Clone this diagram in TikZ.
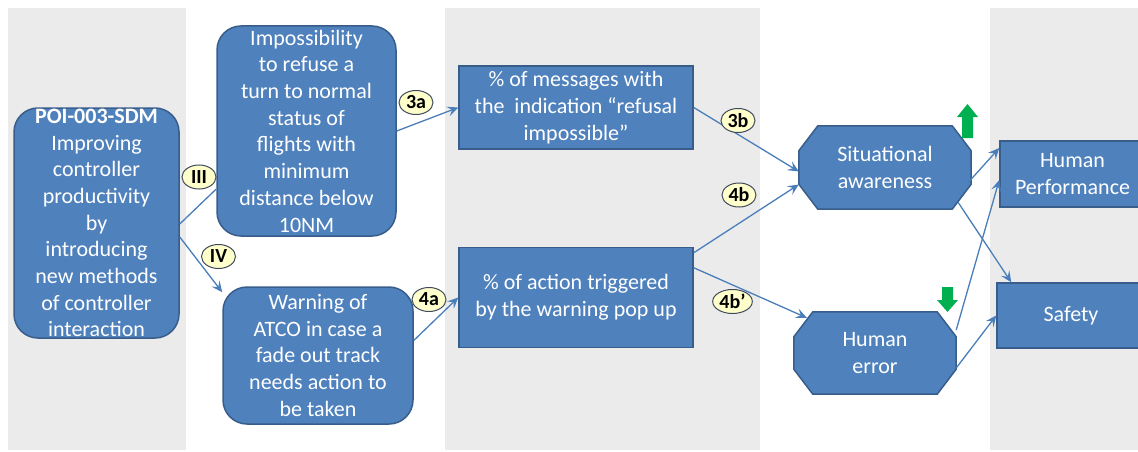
\documentclass[tikz,border=0pt]{standalone}
\usepackage{fontspec}
\setmainfont{Carlito}
\usetikzlibrary{arrows.meta, positioning, shapes.geometric}
\definecolor{boxblue}{HTML}{4F81BD}
\definecolor{boxline}{HTML}{385D8A}
\definecolor{linkblue}{HTML}{4A7EBB}
\definecolor{tagfill}{HTML}{FFFFCC}
\definecolor{tagline}{HTML}{3F4A5C}
\definecolor{panelgray}{HTML}{EBEBEB}
\definecolor{markgreen}{HTML}{00B050}
\pgfdeclarelayer{background}
\pgfsetlayers{background,main}
\tikzset{
  >={Stealth[length=11pt,width=10pt,inset=4.5pt]},
  box/.style={draw=boxline, fill=boxblue, line width=1.5pt, text=white,
    align=center, inner sep=0pt, font=\fontsize{22}{26.7}\selectfont},
  roundbox/.style={box, rounded corners=24pt},
  octtext/.style={text=white, align=center, inner sep=0pt,
    font=\fontsize{22}{26.7}\selectfont},
  tag/.style={ellipse, draw=tagline, fill=tagfill, line width=1pt,
    minimum width=34pt, minimum height=24pt, inner xsep=1pt, inner ysep=0pt,
    font=\bfseries\fontsize{20}{22}\selectfont},
  link/.style={->, draw=linkblue, line width=1.3pt}
}
\newcommand\OctOutline[3]{%
  \begin{pgfonlayer}{background}
    \draw[draw=boxline, fill=boxblue, line width=1.5pt]
      ([xshift=#2]#1.north west) -- ([xshift=-#2]#1.north east)
      -- ([yshift=-#3]#1.north east) -- ([yshift=#3]#1.south east)
      -- ([xshift=-#2]#1.south east) -- ([xshift=#2]#1.south west)
      -- ([yshift=#3]#1.south west) -- ([yshift=-#3]#1.north west) -- cycle;
  \end{pgfonlayer}}

\begin{document}
\begin{tikzpicture}[x=1pt,y=-1pt]
  \useasboundingbox (0,0) rectangle (1138,452);
  \begin{pgfonlayer}{background}
    \fill[panelgray] (8,8) rectangle (186,450);
    \fill[panelgray] (445,8) rectangle (760,450);
    \fill[panelgray] (990,8) rectangle (1138,450);
  \end{pgfonlayer}

  \node[roundbox, minimum width=165pt, minimum height=230pt] (poi) at (96.5,223)
    {\textbf{POI-003-SDM}\\Improving\\controller\\productivity\\by\\introducing\\new methods\\of controller\\interaction};
  \node[roundbox, minimum width=179pt, minimum height=210pt] (imp) at (306.5,131)
    {Impossibility\\to refuse a\\turn to normal\\status of\\flights with\\minimum\\distance below\\10NM};
  \node[roundbox, minimum width=190pt, minimum height=137pt] (warn) at (318,355.5)
    {Warning of\\ATCO in case a\\fade out track\\needs action to\\be taken};
  \node[box, minimum width=234pt, minimum height=83pt] (msg) at (576,107.5)
    {\% of messages with\\the~ indication “refusal\\impossible”};
  \node[box, minimum width=234pt, minimum height=100pt, below=97pt of msg] (act)
    {\% of action triggered\\by the warning pop up};
  \node[octtext, minimum width=172pt, minimum height=83pt] (sit) at (885,167.5)
    {Situational\\awareness};
  \node[octtext, minimum width=162pt, minimum height=82pt] (err) at (875,353)
    {Human\\error};
  \node[box, minimum width=145pt, minimum height=66pt] (hp) at (1072.5,174)
    {Human\\Performance};
  \node[box, minimum width=148pt, minimum height=65pt] (safe) at (1071,315.5)
    {Safety};
  \OctOutline{sit}{19pt}{25pt}
  \OctOutline{err}{19pt}{25pt}

  \draw[link, -] ([yshift=-1pt]poi.east) -- ([yshift=-58pt]imp.west);
  \draw[link] ([yshift=-14pt]poi.east) -- ([yshift=-6pt]warn.north west);
  \draw[link] (imp.east) -- (msg.west);
  \draw[link] ([yshift=15pt]warn.east) -- (act.west);
  \draw[link] (msg.east) -- ([yshift=-4pt]sit.west);
  \draw[link] ([yshift=-6pt]act.north east) -- ([yshift=-17pt]sit.west);
  \draw[link] ([yshift=-21pt]act.north east) -- ([xshift=13pt,yshift=-6pt]err.north west);
  \draw[link] ([xshift=-3pt,yshift=-15pt]sit.east) -- ([yshift=26pt]hp.west);
  \draw[link] ([xshift=-13pt,yshift=-35pt]sit.east) -- ([xshift=15pt]safe.north west);
  \draw[link] ([yshift=23pt]err.east) -- ([yshift=-6pt]hp.west);
  \draw[link] ([yshift=-15pt]err.east) -- (safe.west);

  \node[tag] (tIII) at (199,177) {III};
  \node[tag] (tIV) at (218.5,256.5) {IV};
  \node[tag] (t3a) at (416,102.5) {3a};
  \node[tag] (t4a) at (429,299.5) {4a};
  \node[tag] (t3b) at (738,120.5) {3b};
  \node[tag] (t4b) at (739,195) {4b};
  \node[tag] (t4bp) at (732.5,301.5) {4b’};

  \fill[markgreen, shift={(967.5,138)}] (-5.5,0) -- (-5.5,-21) -- (-10.5,-21)
    -- (0,-34) -- (10.5,-21) -- (5.5,-21) -- (5.5,0) -- cycle;
  \fill[markgreen, shift={(947.5,287)}] (-5.5,0) -- (-5.5,13) -- (-10.5,13)
    -- (0,25) -- (10.5,13) -- (5.5,13) -- (5.5,0) -- cycle;
\end{tikzpicture}
\end{document}
